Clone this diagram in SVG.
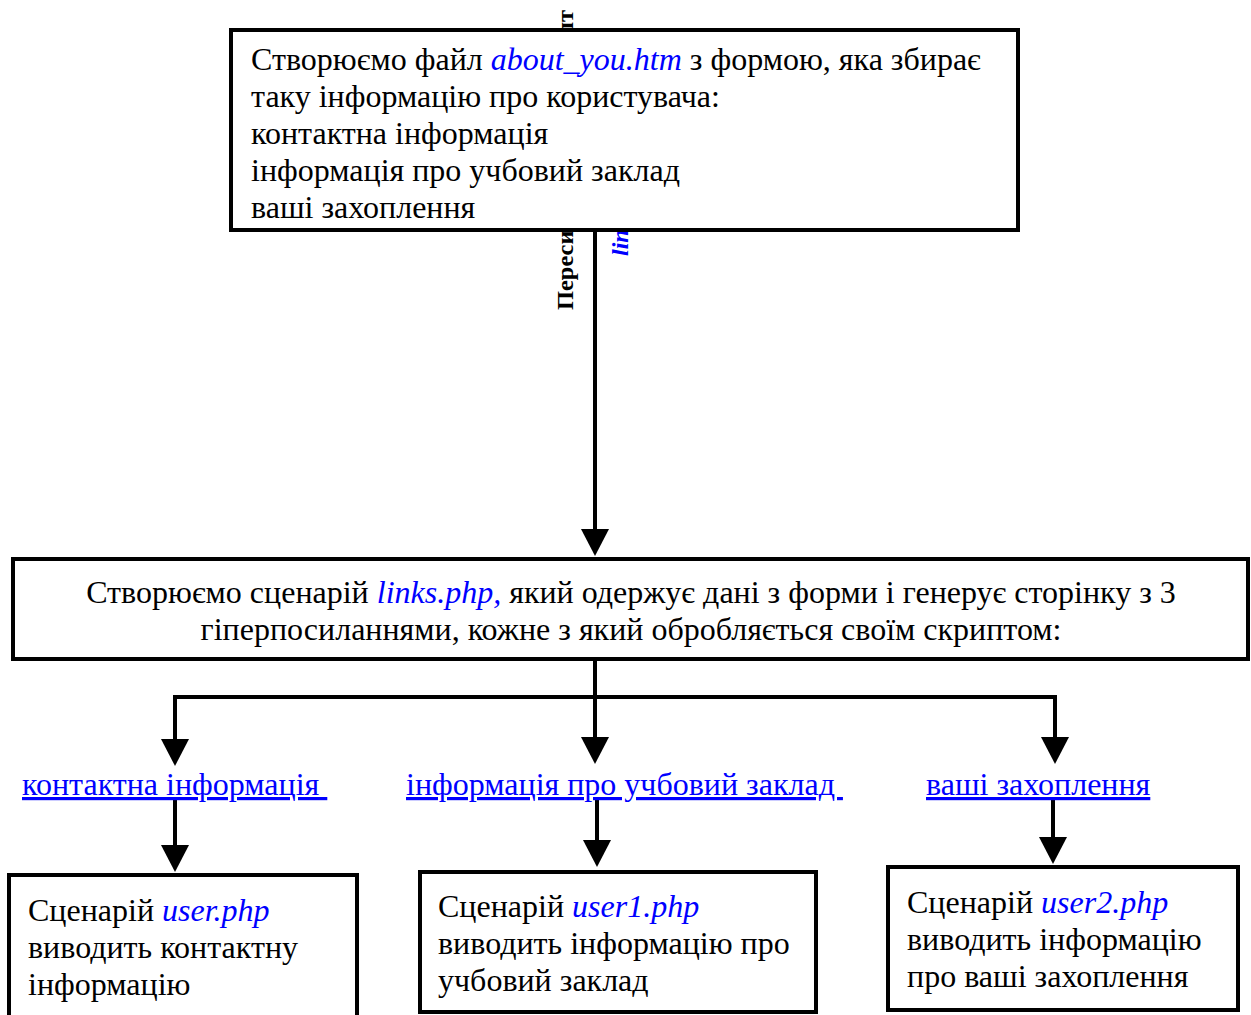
<svg xmlns="http://www.w3.org/2000/svg" width="1251" height="1015" viewBox="0 0 1251 1015">
<style>
text{font-family:"Liberation Serif","Times New Roman",serif;font-size:32px;fill:#000}
.b{fill:#0000ff;font-style:italic}
.box{fill:#fff;stroke:#000;stroke-width:4}
.c{fill:none;stroke:#000;stroke-width:4}
.lnk{fill:#0000ff;text-decoration:underline;white-space:pre}
.lbl{font-weight:bold;font-size:24px}
</style>
<defs>
<marker id="ah" markerUnits="userSpaceOnUse" markerWidth="28" markerHeight="28" viewBox="0 0 27 28" refX="0" refY="14" orient="auto">
<path d="M0,0 L27,14 L0,28 z" fill="#000"/>
</marker>
</defs>
<g id="edge-label">
<text class="lbl" transform="translate(573,310) rotate(-90)" textLength="300" lengthAdjust="spacingAndGlyphs">Пересилаємо дані в скрипт</text>
<text class="lbl b" transform="translate(628,256) rotate(-90)">links.php</text>
</g>
<g id="connectors">
<path class="c" d="M595,231 V529" marker-end="url(#ah)"/>
<path class="c" d="M595,659 V737" marker-end="url(#ah)"/>
<path class="c" d="M175,739 V697 H1055 V737" />
<path d="M161,739 L189,739 L175,766 z" fill="#000"/>
<path d="M1041,737 L1069,737 L1055,764 z" fill="#000"/>
<path class="c" d="M175,797 V845" marker-end="url(#ah)"/>
<path class="c" d="M597,797 V840" marker-end="url(#ah)"/>
<path class="c" d="M1053,797 V837" marker-end="url(#ah)"/>
</g>
<g id="node-form">
<rect class="box" x="231" y="30" width="787" height="200"/>
<text x="251" y="70">Створюємо файл <tspan class="b">about_you.htm</tspan> з формою, яка збирає</text>
<text x="251" y="107">таку інформацію про користувача:</text>
<text x="251" y="144">контактна інформація</text>
<text x="251" y="181">інформація про учбовий заклад</text>
<text x="251" y="218">ваші захоплення</text>
</g>
<g id="node-links">
<rect class="box" x="13" y="559" width="1235" height="100"/>
<text x="631" y="603" text-anchor="middle">Створюємо сценарій <tspan class="b">links.php,</tspan> який одержує дані з форми і генерує сторінку з 3</text>
<text x="631" y="640" text-anchor="middle">гіперпосиланнями, кожне з який обробляється своїм скриптом:</text>
</g>
<g id="link-contact"><text class="lnk" x="22" y="795" xml:space="preserve">контактна інформація </text></g>
<g id="link-school"><text class="lnk" x="406" y="795" xml:space="preserve">інформація про учбовий заклад </text></g>
<g id="link-hobby"><text class="lnk" x="926" y="795" xml:space="preserve">ваші захоплення</text></g>
<g id="node-user">
<rect class="box" x="9" y="875" width="348" height="150"/>
<text x="28" y="921">Сценарій <tspan class="b">user.php</tspan></text>
<text x="28" y="958">виводить контактну</text>
<text x="28" y="995">інформацію</text>
</g>
<g id="node-user1">
<rect class="box" x="420" y="872" width="396" height="140"/>
<text x="438" y="917">Сценарій <tspan class="b">user1.php</tspan></text>
<text x="438" y="954">виводить інформацію про</text>
<text x="438" y="991">учбовий заклад</text>
</g>
<g id="node-user2">
<rect class="box" x="888" y="867" width="350" height="143"/>
<text x="907" y="913">Сценарій <tspan class="b">user2.php</tspan></text>
<text x="907" y="950">виводить інформацію</text>
<text x="907" y="987">про ваші захоплення</text>
</g>
</svg>
